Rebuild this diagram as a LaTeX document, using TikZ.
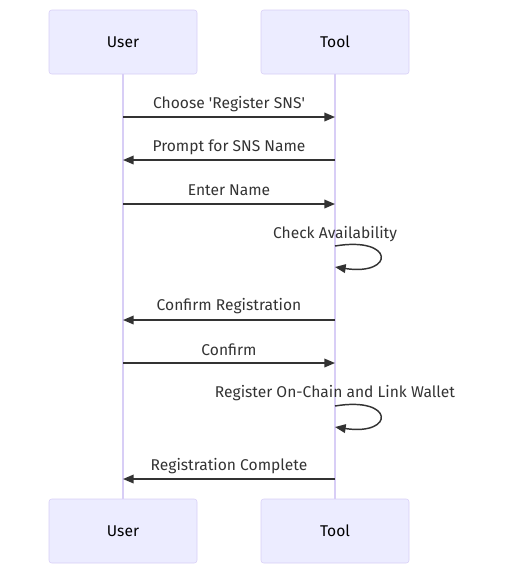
\documentclass[tikz,border=0pt]{standalone}
\usepackage{fontspec}
\setmainfont{Fira Sans}
\usetikzlibrary{arrows.meta}
\definecolor{actorfill}{HTML}{ECECFF}
\definecolor{actorline}{HTML}{D8CEF6}
\definecolor{msgline}{HTML}{333333}
\begin{document}
\begin{tikzpicture}[%
    x=0.75pt,y=-0.75pt,
    actor/.style={rectangle,draw=actorline,fill=actorfill,rounded corners=2pt,
      minimum width=111pt,minimum height=48pt,font=\fontsize{11.7}{13}\selectfont,text=black},
    life/.style={draw=actorline,line width=1pt},
    msg/.style={draw=msgline,line width=1.1pt,-{Triangle[length=8pt,width=6.5pt]}},
    lbl/.style={font=\fontsize{11.7}{13}\selectfont,text=msgline,inner sep=0pt}
  ]
		\useasboundingbox (0,0) rectangle (505,583);

		% actors
		\node at (123,42) [actor] (u1) {User};
		\node at (335,42) [actor] (t1) {Tool};
		\node at (123,531) [actor] (u2) {User};
		\node at (335,531) [actor] (t2) {Tool};

		\draw[life] (u1.south) -- (u2.north);
		\draw[life] (t1.south) -- (t2.north);

		% message ends
		\coordinate (u3) at (123,117);
		\coordinate (t3) at (335,117);
		\coordinate (u4) at (123,160);
		\coordinate (t4) at (335,160);
		\coordinate (u5) at (123,204);
		\coordinate (t5) at (335,204);
		\coordinate (t6) at (335,246);
		\coordinate (t7) at (335,267);
		\coordinate (u8) at (123,320);
		\coordinate (t8) at (335,320);
		\coordinate (u9) at (123,363);
		\coordinate (t9) at (335,363);
		\coordinate (t10) at (335,406);
		\coordinate (t11) at (335,427);
		\coordinate (u12) at (123,479);
		\coordinate (t12) at (335,479);

		% messages
		\draw[msg] (u3) -- (t3);
		\draw[msg] (t4) -- (u4);
		\draw[msg] (u5) -- (t5);
		\draw[msg] (t6) .. controls (395,236) and (395,276) .. (t7);
		\draw[msg] (t8) -- (u8);
		\draw[msg] (u9) -- (t9);
		\draw[msg] (t10) .. controls (395,396) and (395,436) .. (t11);
		\draw[msg] (t12) -- (u12);

		% labels
		\node at (229,104) [lbl] (m1) {Choose \textquotesingle Register SNS\textquotesingle};
		\node at (229,147) [lbl] (m2) {Prompt for SNS Name};
		\node at (229,190) [lbl] (m3) {Enter Name};
		\node at (335,234) [lbl] (m4) {Check Availability};
		\node at (229,306) [lbl] (m5) {Confirm Registration};
		\node at (229,350) [lbl] (m6) {Confirm};
		\node at (335,393) [lbl] (m7) {Register On-Chain and Link Wallet};
		\node at (229,466) [lbl] (m8) {Registration Complete};
	\end{tikzpicture}
\end{document}
